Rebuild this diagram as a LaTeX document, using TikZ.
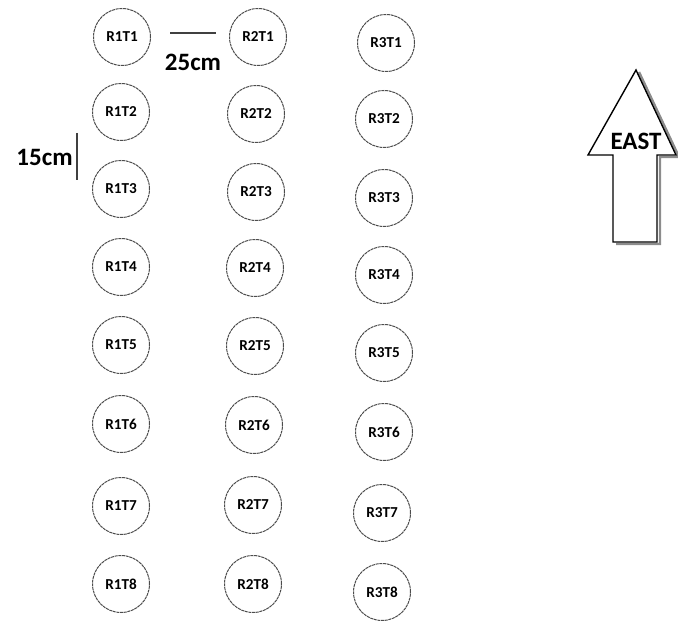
\documentclass[tikz,border=0pt]{standalone}
\usepackage{fontspec}
\setmainfont{Carlito}
\begin{document}
\begin{tikzpicture}[x=0.5pt,y=-0.5pt,
    tree/.style={circle, draw=black!70, line width=0.5pt, dash pattern=on 1.5pt off 0.35pt, minimum size=28.5pt, inner sep=0pt, font=\bfseries\fontsize{7.6}{9}\selectfont},
    gap/.style={font=\bfseries\fontsize{12.5}{14}\selectfont, inner sep=0pt}]
        \useasboundingbox (0,0) rectangle (678,620);
        % first row
        \node[tree] at (122,37) (r1t1) {R1T1};
        \node[tree] at (121,112) (r1t2) {R1T2};
        \node[tree] at (121,189) (r1t3) {R1T3};
        \node[tree] at (121,267) (r1t4) {R1T4};
        \node[tree] at (121,345) (r1t5) {R1T5};
        \node[tree] at (121,424) (r1t6) {R1T6};
        \node[tree] at (121,506) (r1t7) {R1T7};
        \node[tree] at (121,584) (r1t8) {R1T8};
        % second row
        \node[tree] at (258,37) (r2t1) {R2T1};
        \node[tree] at (256,114) (r2t2) {R2T2};
        \node[tree] at (256,192) (r2t3) {R2T3};
        \node[tree] at (255,268) (r2t4) {R2T4};
        \node[tree] at (255,346) (r2t5) {R2T5};
        \node[tree] at (254,425) (r2t6) {R2T6};
        \node[tree] at (253,505) (r2t7) {R2T7};
        \node[tree] at (253,584) (r2t8) {R2T8};
        % third row
        \node[tree] at (386,43) (r3t1) {R3T1};
        \node[tree] at (384,119) (r3t2) {R3T2};
        \node[tree] at (384,198) (r3t3) {R3T3};
        \node[tree] at (384,275) (r3t4) {R3T4};
        \node[tree] at (384,353) (r3t5) {R3T5};
        \node[tree] at (384,432) (r3t6) {R3T6};
        \node[tree] at (382,513) (r3t7) {R3T7};
        \node[tree] at (382,592) (r3t8) {R3T8};
        % spacing
        \coordinate (w1) at (170,33);
        \coordinate (w2) at (216,33);
        \draw[black!75, line width=0.7pt] (w1) -- (w2);
        \node[gap] at (193,62) (width) {25cm};
        \coordinate (h1) at (77,133);
        \coordinate (h2) at (77,180);
        \draw[black!75, line width=0.7pt] (h1) -- (h2);
        \node[gap, anchor=east] at (73,157) (height) {15cm};
        % direction
        \draw[black!45, line width=1.2pt] (639,72) -- (679,157) -- (660,157) -- (660,244) -- (616,244);
        \draw[black, line width=0.7pt, fill=white] (636,70) -- (676,155) -- (657,155) -- (657,242) -- (613,242) -- (613,155) -- (588,155) -- cycle;
        \node[gap] at (636,141) (east) {EAST};
      \end{tikzpicture}
\end{document}
